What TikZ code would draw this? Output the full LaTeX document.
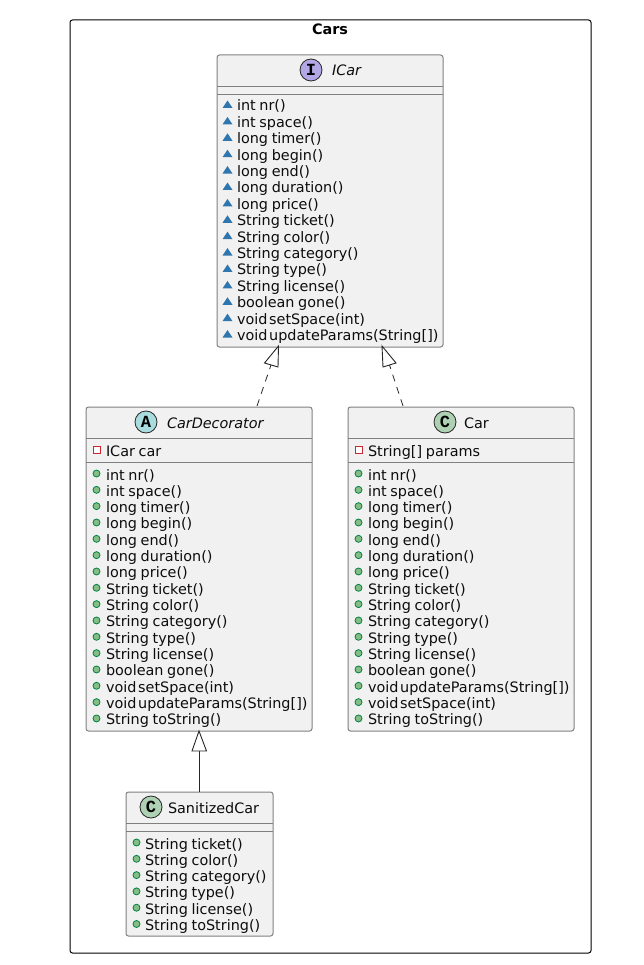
\documentclass[tikz,border=0pt]{standalone}
\usepackage{fontspec}
\setmainfont[WordSpace=0.8]{DejaVu Sans}
\newfontfamily\iconfont{Liberation Mono}
\usetikzlibrary{arrows.meta,calc}
\definecolor{boxfill}{HTML}{F1F1F1}
\definecolor{boxline}{HTML}{808080}
\definecolor{pkgblue}{HTML}{2F75AE}
\definecolor{pubfill}{HTML}{84BE84}
\definecolor{publine}{HTML}{038048}
\definecolor{privred}{HTML}{C82930}
\definecolor{iconC}{HTML}{ADD1B2}
\definecolor{iconA}{HTML}{A9DCDF}
\definecolor{iconI}{HTML}{B4A7E5}
\newcommand{\tightsp}{\kern-2pt\ }
\tikzset{
  txt/.style={font=\fontsize{14.4}{16}\selectfont,inner sep=0pt,outer sep=0pt,anchor=base west,text=black!95},
  clusterbox/.style={draw=black,line width=1pt,rounded corners=2.5pt,inner sep=0pt,outer sep=0pt,anchor=north west},
  classbox/.style={draw=boxline,fill=boxfill,line width=1pt,rounded corners=2.5pt,inner sep=0pt,outer sep=0pt,anchor=north west},
  divider/.style={draw=boxline,line width=1pt},
  icon/.style={circle,draw=black!85,line width=.8pt,minimum size=22pt,inner sep=0pt,font=\iconfont\bfseries\fontsize{17}{17}\selectfont},
  pkgmark/.style={fill=pkgblue,draw=none},
  pubmark/.style={circle,fill=pubfill,draw=publine,line width=.8pt,minimum size=7pt,inner sep=0pt},
  privmark/.style={rectangle,fill=white,draw=privred,line width=.9pt,minimum size=7pt,inner sep=0pt},
  realize/.style={draw=black!85,line width=.8pt,dash pattern=on 7pt off 6pt},
  extend/.style={draw=black!85,line width=.9pt},
  openhead/.style={draw=black!85,fill=white,line width=.9pt},
}
% \pkgrow{prefix}{index}{marker x}{text x}{y centre}{text}
\newcommand{\pkgrow}[6]{%
  \fill[pkgmark] (#3-5,#5+3) -- (#3+5,#5+3) -- (#3,#5-4.5) -- cycle;
  \node[txt] (#1t#2) at (#4,#5+6) {#6};}
\newcommand{\pubrow}[6]{%
  \node[pubmark] (#1m#2) at (#3,#5-.5) {};
  \node[txt] (#1t#2) at (#4,#5+6) {#6};}
\newcommand{\privrow}[6]{%
  \node[privmark] (#1m#2) at (#3,#5) {};
  \node[txt] (#1t#2) at (#4,#5+6) {#6};}
\begin{document}
\begin{tikzpicture}[x=1pt,y=-1pt]
\useasboundingbox (0,0) rectangle (643,965);
\node[clusterbox,minimum width=521pt,minimum height=933pt] (cars) at (70,20) {};
\node[font=\fontsize{14.4}{16}\selectfont\bfseries,inner sep=0pt,anchor=base] (carstitle) at (330,35) {Cars};

% ICar
\node[classbox,minimum width=226pt,minimum height=292pt] (icar) at (217,55) {};
\draw[divider] (217,86.5) -- (443,86.5);
\draw[divider] (217,94.5) -- (443,94.5);
\node[icon,fill=iconI] (icaricon) at (311,70) {I};
\node[txt,font=\fontsize{14.4}{16}\selectfont\itshape] (icarname) at (332,76) {ICar};
\foreach \t [count=\i from 0] in {int nr(),int space(),long timer(),long begin(),long end(),long duration(),long price(),String ticket(),String color(),String category(),String type(),String license(),boolean gone(),void\tightsp setSpace(int),void\tightsp updateParams(String[])}{
  \pgfmathsetmacro{\yy}{105+16.4*\i}
  \pkgrow{ic}{\i}{227.5}{237}{\yy}{\t}
}

% CarDecorator
\node[classbox,minimum width=226pt,minimum height=324pt] (cardec) at (86,407) {};
\draw[divider] (86,438.5) -- (312,438.5);
\draw[divider] (86,462.5) -- (312,462.5);
\node[icon,fill=iconA] (cardecicon) at (146,422) {A};
\node[txt,font=\fontsize{14.4}{16}\selectfont\itshape] (cardecname) at (167,428) {CarDecorator};
\privrow{cdp}{0}{96.5}{106}{450}{ICar car}
\foreach \t [count=\i from 0] in {int nr(),int space(),long timer(),long begin(),long end(),long duration(),long price(),String ticket(),String color(),String category(),String type(),String license(),boolean gone(),void\tightsp setSpace(int),void\tightsp updateParams(String[]),String toString()}{
  \pgfmathsetmacro{\yy}{474+16.33*\i}
  \pubrow{cd}{\i}{96.5}{106}{\yy}{\t}
}

% Car
\node[classbox,minimum width=226pt,minimum height=324pt] (car) at (348,407) {};
\draw[divider] (348,438.5) -- (574,438.5);
\draw[divider] (348,462.5) -- (574,462.5);
\node[icon,fill=iconC] (caricon) at (445,422) {C};
\node[txt] (carname) at (464,428) {Car};
\privrow{cp}{0}{358.5}{368}{450}{String[] params}
\foreach \t [count=\i from 0] in {int nr(),int space(),long timer(),long begin(),long end(),long duration(),long price(),String ticket(),String color(),String category(),String type(),String license(),boolean gone(),void\tightsp updateParams(String[]),void\tightsp setSpace(int),String toString()}{
  \pgfmathsetmacro{\yy}{474+16.33*\i}
  \pubrow{c}{\i}{358.5}{368}{\yy}{\t}
}

% SanitizedCar
\node[classbox,minimum width=147pt,minimum height=144pt] (san) at (126,792) {};
\draw[divider] (126,823) -- (273,823);
\draw[divider] (126,831) -- (273,831);
\node[icon,fill=iconC] (sanicon) at (151,807) {C};
\node[txt] (sanname) at (168,813) {SanitizedCar};
\foreach \t [count=\i from 0] in {String ticket(),String color(),String category(),String type(),String license(),String toString()}{
  \pgfmathsetmacro{\yy}{843+16.3*\i}
  \pubrow{s}{\i}{136.5}{145}{\yy}{\t}
}

% Connectors
\coordinate (a1) at ($(cardec.north west)+(171,-1)$);
\coordinate (a2) at ($(icar.south west)+(54,18)$);
\coordinate (a3) at ($(icar.south west)+(61.5,-1)$);
\draw[realize] (a1) -- (a2);
\draw[openhead] (a3) -- ($(icar.south west)+(47.5,16)$) -- ($(icar.south west)+(61,20)$) -- cycle;

\coordinate (b1) at ($(car.north west)+(55,-1)$);
\coordinate (b2) at ($(icar.south west)+(172.5,18)$);
\coordinate (b3) at ($(icar.south west)+(165,-1)$);
\draw[realize] (b1) -- (b2);
\draw[openhead] (b3) -- ($(icar.south west)+(179,16)$) -- ($(icar.south west)+(166,20)$) -- cycle;

\coordinate (c1) at ($(san.north west)+(73,0)$);
\coordinate (c2) at ($(cardec.south west)+(113,20)$);
\coordinate (c3) at ($(cardec.south west)+(113,0)$);
\draw[extend] (c1) -- (c2);
\draw[openhead] (c3) -- ($(cardec.south west)+(106,20)$) -- ($(cardec.south west)+(120.5,20)$) -- cycle;
\end{tikzpicture}
\end{document}
